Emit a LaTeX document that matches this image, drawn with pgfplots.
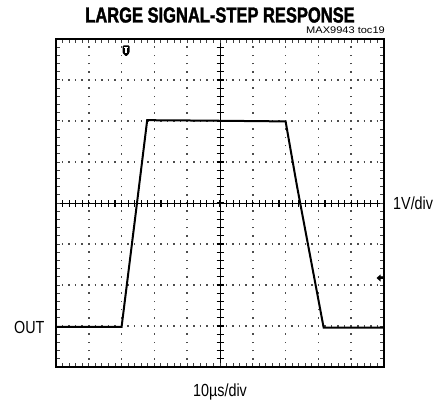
\documentclass[border=0pt]{standalone}
\usepackage{fontspec}
\setmainfont{Liberation Sans}
\newfontfamily\condfont[FakeStretch=0.82]{Liberation Sans}
\newfontfamily\titlefont[FakeStretch=0.76,FakeBold=1.6]{Liberation Sans Bold}
\usepackage{pgfplots}
\pgfplotsset{compat=1.18}
\begin{document}
\begin{tikzpicture}
\useasboundingbox (0,0) rectangle (438pt,402pt);
% graticule
\begin{scope}[x=1pt,y=1pt]
  \foreach \i in {1,2,3,4,6,7,8,9} {
    \draw[black!70, line width=1.5pt, dash pattern=on 1.5pt off 6.7pt, dash phase=0.75pt]
      ({56+\i*32.8},35) -- ({56+\i*32.8},363);
  }
  \foreach \j in {1,2,3,5,6,7} {
    \draw[black!70, line width=1.5pt, dash pattern=on 1.5pt off 5.06pt, dash phase=0.75pt]
      (56,{35+\j*41}) -- (384,{35+\j*41});
  }
  \draw[black, line width=1pt] (56,199) -- (384,199);
  \draw[black, line width=1pt] (220,35) -- (220,363);
  \foreach \i in {1,...,49} {
    \draw[black, line width=1.1pt] ({56+\i*6.56},195.5) -- ({56+\i*6.56},202.5);
    \draw[black!75, line width=1pt] ({56+\i*6.56},35) -- ({56+\i*6.56},38.8);
    \draw[black!75, line width=1pt] ({56+\i*6.56},363) -- ({56+\i*6.56},359.2);
  }
  \foreach \k in {1,...,39} {
    \draw[black, line width=1.1pt] (216.5,{35+\k*8.2}) -- (223.5,{35+\k*8.2});
    \draw[black!75, line width=1pt] (56,{35+\k*8.2}) -- (59.8,{35+\k*8.2});
    \draw[black!75, line width=1pt] (384,{35+\k*8.2}) -- (380.2,{35+\k*8.2});
  }
\end{scope}
\begin{axis}[
  at={(56pt,35pt)}, anchor=south west,
  scale only axis, width=328pt, height=328pt,
  xmin=0, xmax=10, ymin=0, ymax=8,
  xtick=\empty, ytick=\empty,
  axis line style={line width=2.6pt},
]
\addplot[black, line width=2pt] coordinates {
  (0,0.98) (2.0,0.98) (2.40,3.55) (2.78,6.02) (4.5,6.01) (7.0,5.99)
  (7.35,4.40) (8.16,0.96) (10,0.96)
};
\end{axis}
\begin{scope}[x=1pt,y=1pt]
  % trigger marker
  \fill[black, rounded corners=1pt] (122.5,356.5) -- (129.5,356.5) -- (129.5,349) -- (126,345.5) -- (122.5,349) -- cycle;
  \fill[white] (123.8,354.3) rectangle (128.2,355.4);
  \fill[white] (125.45,348.5) rectangle (126.55,355);
  % level marker
  \fill[black] (376.5,124) -- (380.5,127.5) -- (380.5,120.5) -- cycle;
  \draw[black, line width=1.2pt] (379,124) -- (384,124);
  % texts
  \node[anchor=base, inner sep=0pt] at (220,379.5)
    {\titlefont\fontsize{21.7}{24}\selectfont LARGE SIGNAL-STEP RESPONSE};
  \node[anchor=base east, inner sep=0pt] at (385,368.5)
    {\condfont\fontsize{9.6}{11}\selectfont\addfontfeature{FakeStretch=1.15}MAX9943 toc19};
  \node[anchor=base west, inner sep=0pt] at (14,68.7)
    {\condfont\fontsize{17.5}{20}\selectfont OUT};
  \node[anchor=base west, inner sep=0pt] at (393,192.5)
    {\condfont\fontsize{17.5}{20}\selectfont 1V/div};
  \node[anchor=base, inner sep=0pt] at (220,5.5)
    {\condfont\fontsize{17.5}{20}\selectfont 10µs/div};
\end{scope}
\end{tikzpicture}
\end{document}
